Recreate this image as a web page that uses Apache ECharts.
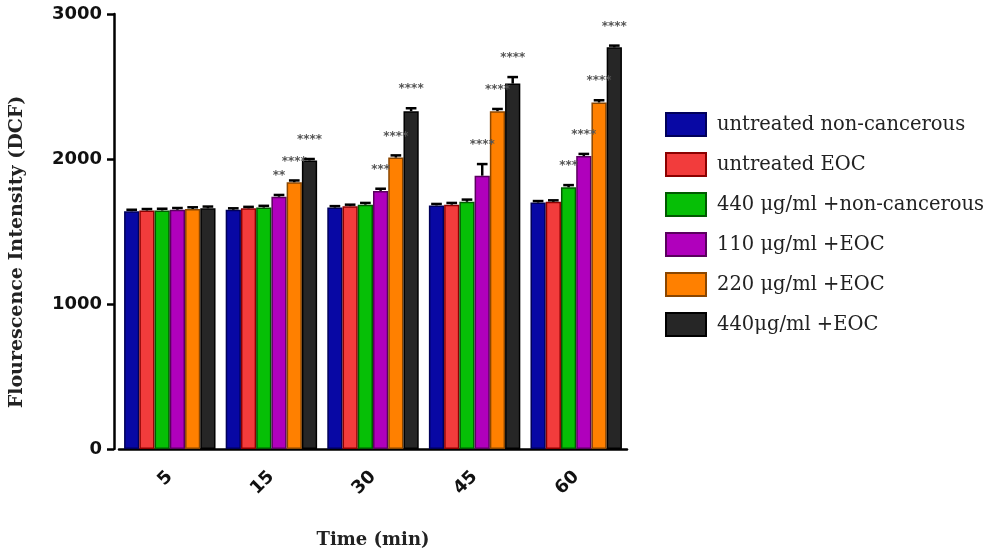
<!DOCTYPE html>
<html>
<head>
<meta charset="utf-8">
<script src="https://cdn.jsdelivr.net/npm/echarts@6/dist/echarts.min.js"></script>
<style>
  html, body { margin: 0; padding: 0; background: #fff; }
  #chart { width: 1000px; height: 550px; }
</style>
</head>
<body>
<div id="chart"></div>
<script>
// time points (min)
const categories = ['5', '15', '30', '45', '60'];
const seriesNames = [
  'untreated non-cancerous',
  'untreated EOC',
  '440 μg/ml +non-cancerous',
  '110 μg/ml +EOC',
  '220 μg/ml +EOC',
  '440μg/ml +EOC'
];

// mean fluorescence per group
const untreatedNonCancerous = [1640, 1650, 1665, 1680, 1700];
const untreatedEOC = [1645, 1660, 1675, 1685, 1705];
const nonCancerous440 = [1645, 1665, 1685, 1705, 1805];
const eoc110 = [1650, 1740, 1780, 1885, 2020];
const eoc220 = [1655, 1840, 2010, 2330, 2390];
const eoc440 = [1660, 1990, 2330, 2520, 2770];

// error (SD) per group
const errNonCancerous = [10, 10, 10, 10, 10];
const errEOC = [10, 10, 10, 12, 10];
const err440Non = [12, 12, 12, 15, 15];
const err110 = [12, 12, 15, 80, 15];
const err220 = [12, 12, 15, 15, 15];
const err440 = [12, 10, 20, 45, 12];

// significance marks
const starsNonCancerous = ['', '', '', '', ''];
const starsEOC = ['', '', '', '', ''];
const stars440Non = ['', '', '', '', '***'];
const stars110 = ['', '**', '***', '****', '****'];
const stars220 = ['', '****', '****', '****', '****'];
const stars440 = ['', '****', '****', '****', '****'];

const values = [untreatedNonCancerous, untreatedEOC, nonCancerous440, eoc110, eoc220, eoc440];
const errors = [errNonCancerous, errEOC, err440Non, err110, err220, err440];
const stars = [starsNonCancerous, starsEOC, stars440Non, stars110, stars220, stars440];

const colors = ['#0808a4', '#f23c3c', '#06bf06', '#b000bc', '#ff8000', '#262626'];
const borders = ['#00005a', '#8c0000', '#005a00', '#5a005e', '#8a4600', '#000000'];

const chart = echarts.init(document.getElementById('chart'));

const catGap = 0.1;
const nSeries = seriesNames.length;

const series = [];
seriesNames.forEach((name, s) => {
  series.push({
    name: name,
    type: 'bar',
    data: values[s],
    barGap: '0%',
    barCategoryGap: '10%',
    itemStyle: { color: colors[s], borderColor: borders[s], borderWidth: 1.5 },
    emphasis: { disabled: true }
  });
});
// error bars + significance stars
seriesNames.forEach((name, s) => {
  series.push({
    name: 'err' + s,
    type: 'custom',
    z: 5,
    data: values[s].map((v, i) => [i, v, errors[s][i]]),
    renderItem: function (params, api) {
      const i = api.value(0), v = api.value(1), e = api.value(2);
      const band = api.size([1, 0])[0];
      const bw = band * (1 - catGap) / nSeries;
      const c = api.coord([i, v]);
      const x = c[0] - band * (1 - catGap) / 2 + bw * (s + 0.5);
      const top = api.coord([i, v + e])[1];
      const cap = bw * 0.35;
      const children = [
        { type: 'line', shape: { x1: x, y1: c[1], x2: x, y2: top }, style: { stroke: '#000', lineWidth: 2.5 } },
        { type: 'line', shape: { x1: x - cap, y1: top, x2: x + cap, y2: top }, style: { stroke: '#000', lineWidth: 2.5 } }
      ];
      const st = stars[s][params.dataIndex];
      if (st) {
        children.push({
          type: 'text',
          style: {
            text: st, x: x, y: top - 19, align: 'center', verticalAlign: 'middle',
            fill: '#555', font: 'bold 12px "DejaVu Sans"'
          }
        });
      }
      return { type: 'group', children: children };
    }
  });
});

chart.setOption({
  animation: false,
  grid: { left: 119, right: 373, top: 14, bottom: 101, outerBoundsMode: 'none' },
  legend: {
    data: seriesNames,
    orient: 'vertical',
    left: 660,
    top: 107,
    itemWidth: 40,
    itemHeight: 23,
    itemGap: 15,
    icon: 'rect',
    textStyle: { fontFamily: 'DejaVu Serif', fontSize: 19.5, lineHeight: 23, color: '#222', padding: [0, 0, 0, 6] },
    selectedMode: false
  },
  xAxis: {
    type: 'category',
    data: categories,
    name: 'Time (min)',
    nameLocation: 'middle',
    nameGap: 82,
    nameTextStyle: { fontFamily: 'DejaVu Serif', fontWeight: 'bold', fontSize: 18, color: '#222' },
    axisLine: { lineStyle: { color: '#000', width: 2.5 } },
    axisTick: { alignWithLabel: true, length: 7, lineStyle: { color: '#000', width: 2.5 } },
    axisLabel: { rotate: 45, margin: 25, fontFamily: 'DejaVu Sans', fontWeight: 'bold', fontSize: 18, color: '#111' }
  },
  yAxis: {
    type: 'value',
    min: 0,
    max: 3000,
    interval: 1000,
    offset: 5,
    axisLine: { show: true, lineStyle: { color: '#000', width: 2.5 } },
    axisTick: { show: true, length: 7, lineStyle: { color: '#000', width: 2.5 } },
    axisLabel: {
      margin: 12, fontFamily: 'DejaVu Sans', fontWeight: 'bold', fontSize: 18, color: '#111',
      formatter: (v) => String(v)
    },
    splitLine: { show: false }
  },
  graphic: [{
    type: 'text',
    x: 17,
    y: 252,
    rotation: Math.PI / 2,
    style: {
      text: 'Flourescence Intensity (DCF)',
      align: 'center', verticalAlign: 'middle',
      fill: '#222', font: 'bold 19px "DejaVu Serif"'
    }
  }],
  series: series
});
</script>
</body>
</html>
